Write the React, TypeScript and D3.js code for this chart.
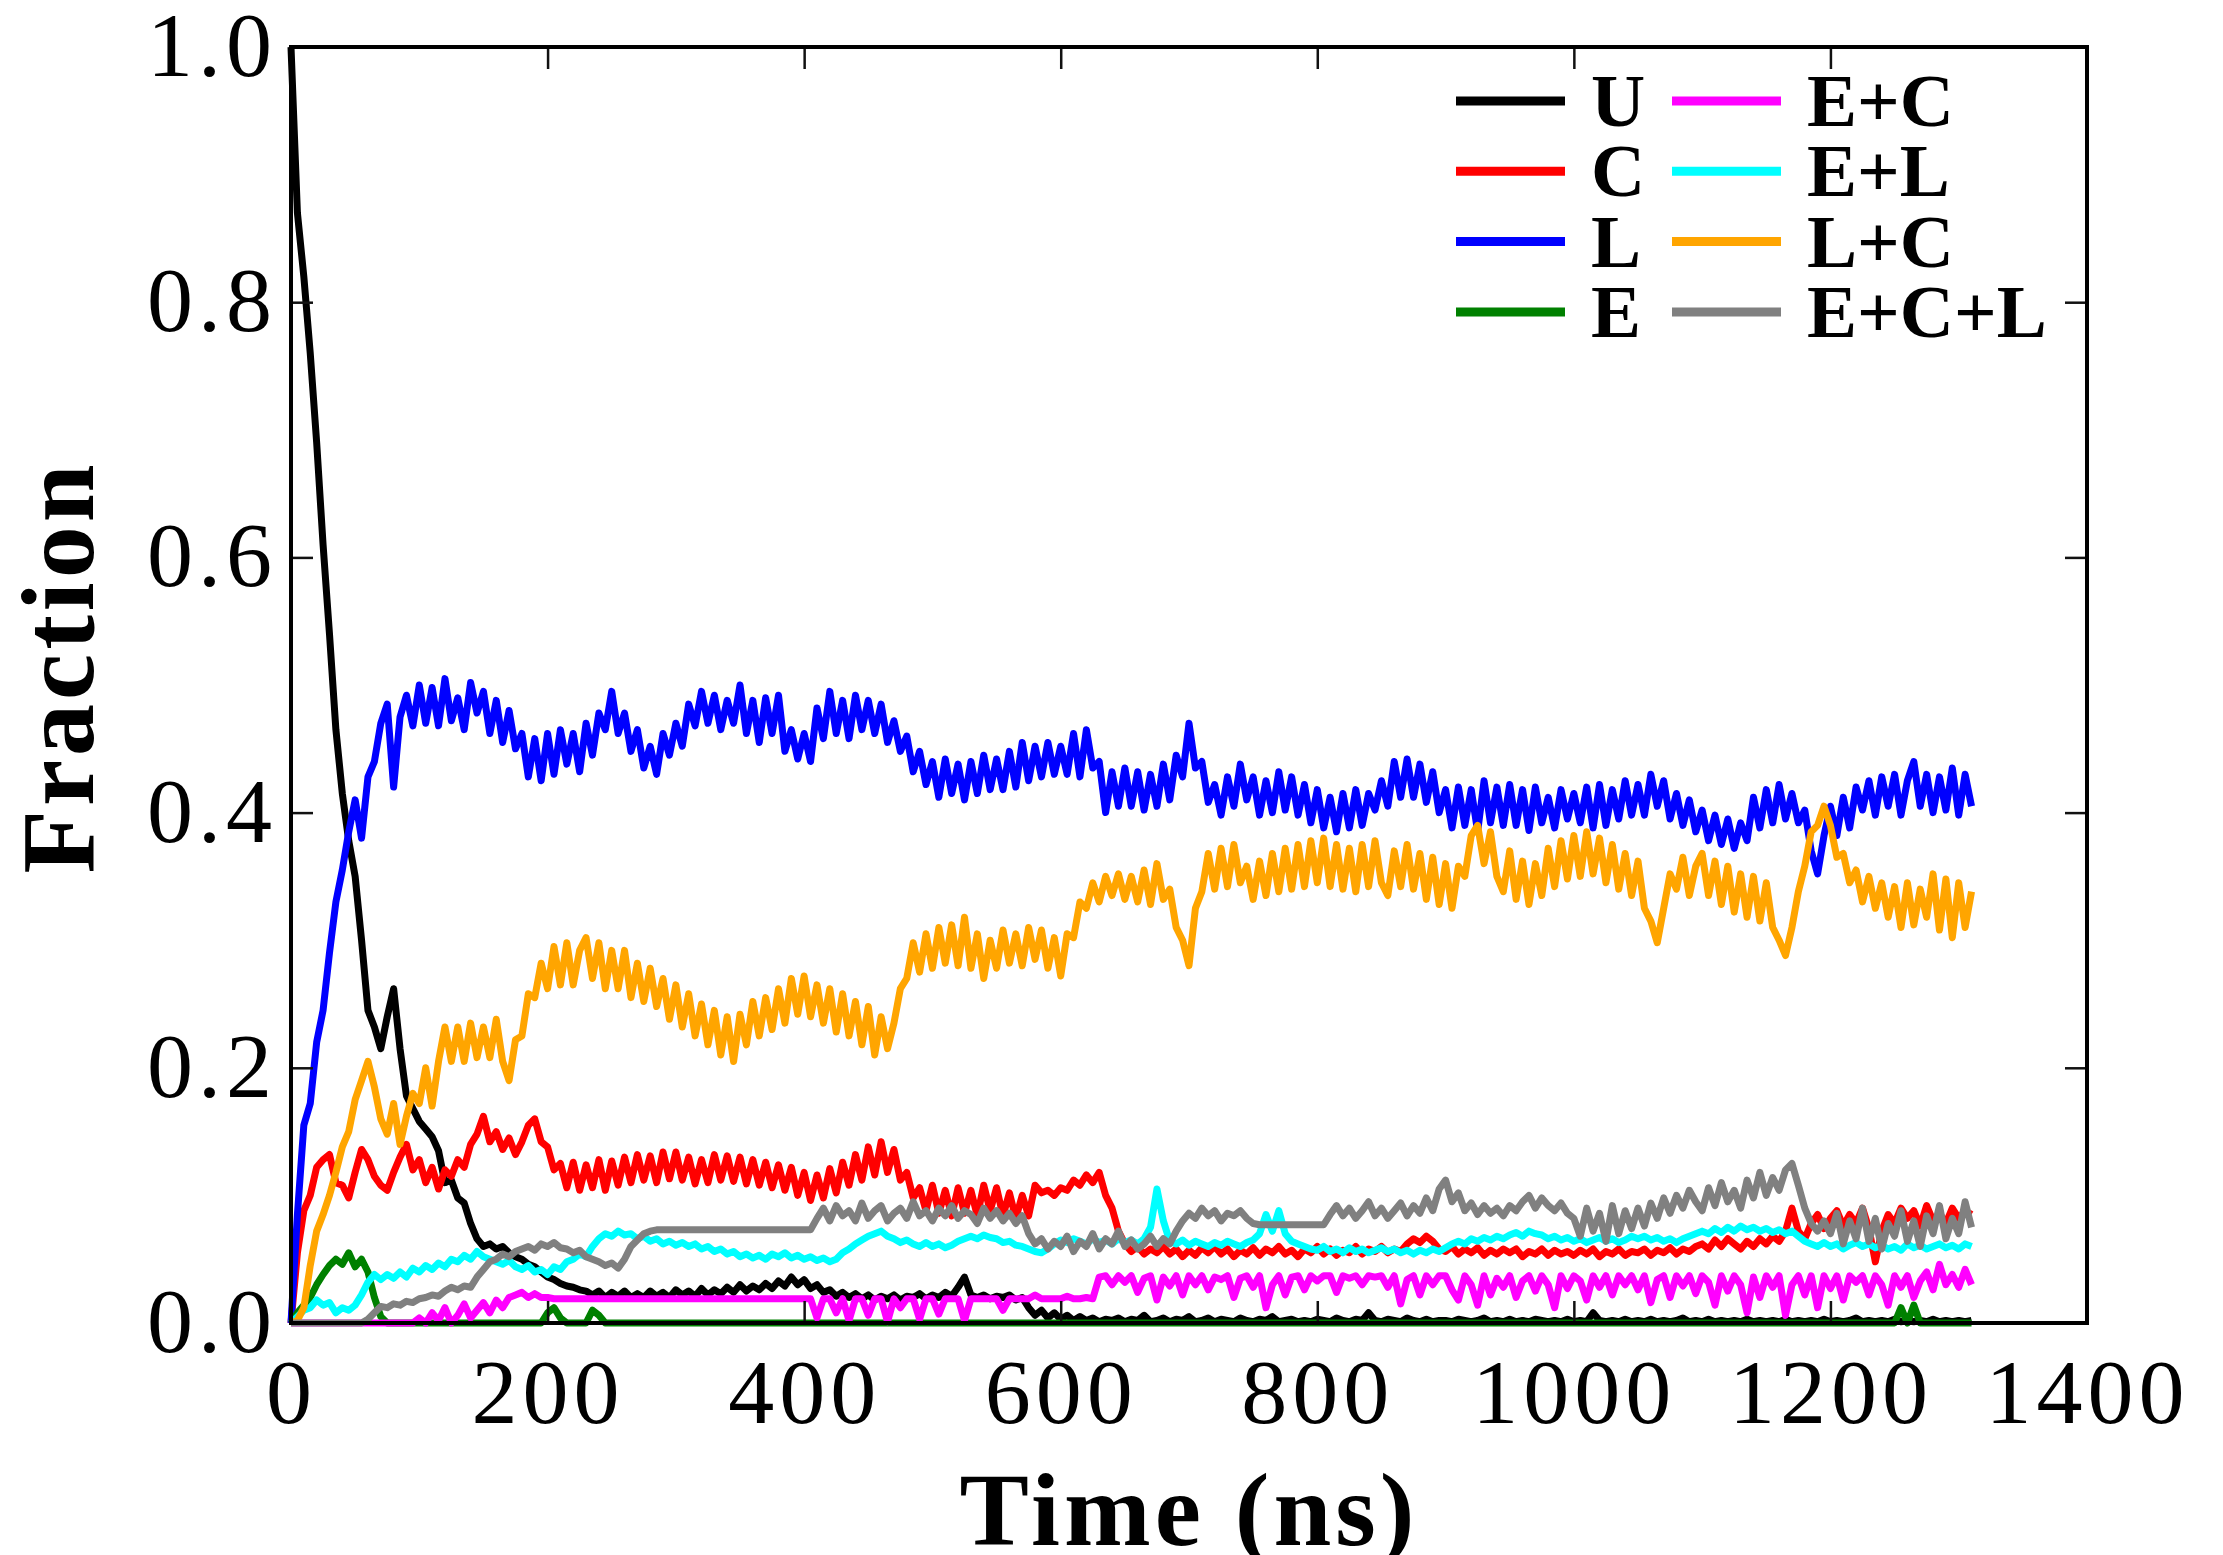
import * as React from 'react';
import * as d3 from 'd3';

// all series are sampled every 5 ns, starting at t = 0
const timeStep = 5;

const fracU = [
  1.0, 0.87, 0.82, 0.76, 0.69, 0.61, 0.54, 0.465, 0.415, 0.378,
  0.35, 0.3, 0.245, 0.232, 0.215, 0.24, 0.262, 0.215, 0.178, 0.168,
  0.158, 0.152, 0.146, 0.135, 0.11, 0.112, 0.098, 0.094, 0.078, 0.066,
  0.06, 0.062, 0.058, 0.06, 0.055, 0.052, 0.05, 0.046, 0.044, 0.04,
  0.036, 0.034, 0.031, 0.029, 0.028, 0.026, 0.025, 0.022, 0.025, 0.02,
  0.024, 0.021, 0.025, 0.02, 0.023, 0.02, 0.025, 0.021, 0.024, 0.02,
  0.026, 0.022, 0.025, 0.021, 0.027, 0.022, 0.026, 0.023, 0.028, 0.024,
  0.03, 0.025, 0.029, 0.026, 0.031, 0.027, 0.033, 0.029, 0.036, 0.03,
  0.034, 0.027, 0.03, 0.024, 0.026, 0.021, 0.024, 0.02, 0.023, 0.019,
  0.022, 0.018, 0.021, 0.019, 0.022, 0.018, 0.021, 0.02, 0.023, 0.019,
  0.022, 0.02, 0.024, 0.021, 0.028, 0.036, 0.022, 0.02, 0.022, 0.019,
  0.021, 0.02, 0.022, 0.018, 0.02, 0.012, 0.006, 0.01, 0.004, 0.008,
  0.003, 0.006, 0.002, 0.005, 0.002, 0.004, 0.001, 0.003, 0.002, 0.004,
  0.001, 0.003, 0.002, 0.006, 0.001, 0.002, 0.004, 0.001, 0.003, 0.002,
  0.005, 0.001, 0.002, 0.004, 0.001, 0.003, 0.002, 0.001, 0.004, 0.002,
  0.001, 0.003, 0.002, 0.005, 0.001, 0.002, 0.003, 0.001, 0.002, 0.001,
  0.003, 0.002, 0.001, 0.004, 0.002, 0.001, 0.003, 0.002, 0.008, 0.002,
  0.001, 0.003, 0.002, 0.001, 0.004, 0.002, 0.001, 0.003, 0.001, 0.002,
  0.002, 0.001, 0.003, 0.002, 0.001, 0.002, 0.004, 0.001, 0.002, 0.001,
  0.003, 0.001, 0.002, 0.001, 0.003, 0.002, 0.001, 0.002, 0.001, 0.003,
  0.001, 0.002, 0.001, 0.008, 0.002, 0.001, 0.002, 0.001, 0.003, 0.001,
  0.002, 0.001, 0.003, 0.001, 0.002, 0.001, 0.002, 0.004, 0.001, 0.002,
  0.001, 0.003, 0.001, 0.002, 0.001, 0.002, 0.001, 0.003, 0.001, 0.002,
  0.001, 0.002, 0.001, 0.003, 0.001, 0.002, 0.001, 0.002, 0.001, 0.003,
  0.001, 0.002, 0.001, 0.002, 0.004, 0.001, 0.002, 0.001, 0.002, 0.001,
  0.003, 0.001, 0.002, 0.001, 0.002, 0.001, 0.003, 0.001, 0.002, 0.001,
  0.002, 0.001, 0.002,
];

const fracC = [
  0, 0.055, 0.088, 0.1, 0.122, 0.128, 0.132, 0.11, 0.108, 0.098,
  0.118, 0.136, 0.128, 0.115, 0.108, 0.104, 0.118, 0.13, 0.14, 0.12,
  0.128, 0.11, 0.122, 0.105, 0.12, 0.115, 0.128, 0.122, 0.14, 0.148,
  0.162, 0.142, 0.15, 0.136, 0.145, 0.132, 0.142, 0.155, 0.16, 0.142,
  0.138, 0.12, 0.125, 0.106, 0.126, 0.104, 0.124, 0.106, 0.128, 0.104,
  0.127, 0.108, 0.13, 0.11, 0.132, 0.112, 0.131, 0.11, 0.134, 0.113,
  0.134, 0.112, 0.13, 0.109, 0.128, 0.11, 0.132, 0.112, 0.131, 0.111,
  0.13, 0.109, 0.128, 0.108, 0.126, 0.106, 0.124, 0.104, 0.122, 0.1,
  0.118, 0.096, 0.116, 0.098, 0.121, 0.102, 0.126, 0.108, 0.132, 0.112,
  0.138, 0.116, 0.142, 0.118, 0.136, 0.112, 0.118, 0.098, 0.106, 0.088,
  0.108, 0.086, 0.104, 0.084, 0.106, 0.086, 0.104, 0.084, 0.108, 0.088,
  0.106, 0.084, 0.102, 0.082, 0.1, 0.084, 0.108, 0.102, 0.104, 0.1,
  0.106, 0.104, 0.112, 0.108, 0.116, 0.11, 0.118, 0.1, 0.09, 0.072,
  0.062, 0.056, 0.06, 0.054, 0.058, 0.055, 0.06, 0.054, 0.058, 0.052,
  0.057, 0.053, 0.059, 0.055, 0.06, 0.054, 0.058, 0.052, 0.057, 0.054,
  0.059, 0.053, 0.058, 0.055, 0.06, 0.054, 0.057, 0.052, 0.058, 0.055,
  0.06, 0.054, 0.058, 0.053, 0.057, 0.055, 0.06, 0.054, 0.058, 0.056,
  0.06, 0.055, 0.058, 0.056, 0.062, 0.066, 0.063, 0.068, 0.064, 0.058,
  0.056, 0.06, 0.054, 0.058, 0.055, 0.059, 0.053, 0.057, 0.054, 0.058,
  0.055, 0.058, 0.052, 0.056, 0.054, 0.058, 0.053, 0.057, 0.054, 0.056,
  0.053, 0.057, 0.054, 0.058, 0.052, 0.056, 0.054, 0.058, 0.053, 0.056,
  0.055, 0.058, 0.053, 0.057, 0.055, 0.059, 0.054, 0.058, 0.056, 0.06,
  0.062, 0.058, 0.065, 0.06, 0.066, 0.062, 0.058, 0.064, 0.06, 0.066,
  0.062, 0.068, 0.064, 0.072, 0.09, 0.072, 0.066, 0.078, 0.085, 0.074,
  0.082, 0.088, 0.076, 0.085, 0.078, 0.09, 0.074, 0.048, 0.072, 0.085,
  0.078, 0.09, 0.082, 0.088, 0.076, 0.092, 0.08, 0.086, 0.078, 0.09,
  0.082, 0.088, 0.085,
];

const fracL = [
  0, 0.085, 0.155, 0.172, 0.22, 0.245, 0.29, 0.33, 0.355, 0.385,
  0.41, 0.38, 0.428, 0.44, 0.47, 0.485, 0.42, 0.475, 0.492, 0.468,
  0.5, 0.47, 0.498, 0.468, 0.505, 0.472, 0.49, 0.465, 0.502, 0.478,
  0.495, 0.462, 0.488, 0.455, 0.48, 0.45, 0.462, 0.428, 0.458, 0.425,
  0.462, 0.43, 0.465, 0.438, 0.462, 0.432, 0.47, 0.445, 0.478, 0.465,
  0.495, 0.462, 0.478, 0.448, 0.465, 0.435, 0.452, 0.43, 0.462, 0.445,
  0.47, 0.452, 0.485, 0.468, 0.495, 0.47, 0.492, 0.465, 0.488, 0.47,
  0.5, 0.462, 0.488, 0.455, 0.49, 0.462, 0.492, 0.448, 0.465, 0.442,
  0.462, 0.44, 0.482, 0.458, 0.495, 0.462, 0.488, 0.458, 0.492, 0.465,
  0.488, 0.462, 0.485, 0.455, 0.472, 0.448, 0.46, 0.432, 0.448, 0.422,
  0.44, 0.412, 0.442, 0.415, 0.438, 0.41, 0.44, 0.415, 0.445, 0.418,
  0.442, 0.418, 0.448, 0.42, 0.455, 0.425, 0.452, 0.428, 0.455, 0.43,
  0.452, 0.43, 0.462, 0.428, 0.465, 0.435, 0.44, 0.4, 0.432, 0.405,
  0.435, 0.405, 0.432, 0.402, 0.43, 0.405, 0.438, 0.41, 0.445, 0.428,
  0.47, 0.435, 0.44, 0.408, 0.422, 0.398, 0.428, 0.405, 0.438, 0.41,
  0.428, 0.398, 0.425, 0.4, 0.432, 0.402, 0.428, 0.398, 0.422, 0.392,
  0.418, 0.388, 0.412, 0.385, 0.415, 0.388, 0.418, 0.39, 0.415, 0.402,
  0.425, 0.405, 0.44, 0.412, 0.442, 0.412, 0.438, 0.408, 0.432, 0.4,
  0.418, 0.388, 0.42, 0.39, 0.418, 0.385, 0.425, 0.392, 0.42, 0.39,
  0.422, 0.39, 0.418, 0.386, 0.42, 0.392, 0.412, 0.388, 0.418, 0.395,
  0.415, 0.392, 0.42, 0.388, 0.422, 0.39, 0.418, 0.395, 0.425, 0.398,
  0.422, 0.398, 0.43, 0.405, 0.425, 0.395, 0.415, 0.39, 0.41, 0.385,
  0.402, 0.378, 0.398, 0.375, 0.395, 0.372, 0.392, 0.378, 0.412, 0.388,
  0.418, 0.392, 0.422, 0.395, 0.415, 0.392, 0.402, 0.37, 0.352, 0.382,
  0.405, 0.382, 0.412, 0.388, 0.42, 0.402, 0.425, 0.398, 0.428, 0.405,
  0.43, 0.398, 0.425, 0.44, 0.405, 0.43, 0.4, 0.428, 0.402, 0.435,
  0.398, 0.43, 0.405,
];

const fracE = [
  0, 0.008, 0.014, 0.02, 0.03, 0.038, 0.045, 0.05, 0.046, 0.055,
  0.044, 0.05, 0.04, 0.02, 0.005, 0, 0, 0, 0, 0,
  0, 0, 0, 0, 0, 0, 0, 0, 0, 0,
  0, 0, 0, 0, 0, 0, 0, 0, 0, 0,
  0.008, 0.012, 0.004, 0, 0, 0, 0, 0.01, 0.006, 0,
  0, 0, 0, 0, 0, 0, 0, 0, 0, 0,
  0, 0, 0, 0, 0, 0, 0, 0, 0, 0,
  0, 0, 0, 0, 0, 0, 0, 0, 0, 0,
  0, 0, 0, 0, 0, 0, 0, 0, 0, 0,
  0, 0, 0, 0, 0, 0, 0, 0, 0, 0,
  0, 0, 0, 0, 0, 0, 0, 0, 0, 0,
  0, 0, 0, 0, 0, 0, 0, 0, 0, 0,
  0, 0, 0, 0, 0, 0, 0, 0, 0, 0,
  0, 0, 0, 0, 0, 0, 0, 0, 0, 0,
  0, 0, 0, 0, 0, 0, 0, 0, 0, 0,
  0, 0, 0, 0, 0, 0, 0, 0, 0, 0,
  0, 0, 0, 0, 0, 0, 0, 0, 0, 0,
  0, 0, 0, 0, 0, 0, 0, 0, 0, 0,
  0, 0, 0, 0, 0, 0, 0, 0, 0, 0,
  0, 0, 0, 0, 0, 0, 0, 0, 0, 0,
  0, 0, 0, 0, 0, 0, 0, 0, 0, 0,
  0, 0, 0, 0, 0, 0, 0, 0, 0, 0,
  0, 0, 0, 0, 0, 0, 0, 0, 0, 0,
  0, 0, 0, 0, 0, 0, 0, 0, 0, 0,
  0, 0, 0, 0, 0, 0, 0, 0, 0, 0,
  0, 0.012, 0, 0.014, 0, 0, 0, 0, 0, 0,
  0, 0, 0,
];

const fracEC = [
  0, 0, 0, 0, 0, 0, 0, 0, 0, 0,
  0, 0, 0, 0, 0, 0, 0, 0, 0, 0,
  0.004, 0, 0.008, 0.002, 0.012, 0, 0.006, 0.015, 0.004, 0.01,
  0.016, 0.008, 0.018, 0.012, 0.02, 0.022, 0.024, 0.02, 0.023, 0.02,
  0.02, 0.019, 0.019, 0.019, 0.019, 0.019, 0.019, 0.019, 0.019, 0.019,
  0.019, 0.019, 0.019, 0.019, 0.019, 0.019, 0.019, 0.019, 0.019, 0.019,
  0.019, 0.019, 0.019, 0.019, 0.019, 0.019, 0.019, 0.019, 0.019, 0.019,
  0.019, 0.019, 0.019, 0.019, 0.019, 0.019, 0.019, 0.019, 0.019, 0.019,
  0.019, 0.019, 0.004, 0.019, 0.019, 0.008, 0.019, 0.002, 0.019, 0.019,
  0.006, 0.019, 0.019, 0.001, 0.019, 0.012, 0.019, 0.019, 0.003, 0.019,
  0.019, 0.007, 0.019, 0.019, 0.019, 0.002, 0.019, 0.019, 0.019, 0.019,
  0.019, 0.01, 0.019, 0.019, 0.019, 0.019, 0.022, 0.019, 0.019, 0.019,
  0.019, 0.021, 0.019, 0.019, 0.02, 0.019, 0.036, 0.037, 0.03, 0.037,
  0.032, 0.037, 0.024, 0.035, 0.037, 0.018, 0.036, 0.029, 0.037, 0.022,
  0.037, 0.03, 0.037, 0.026, 0.036, 0.034, 0.037, 0.02, 0.035, 0.037,
  0.028, 0.037, 0.012, 0.03, 0.037, 0.022, 0.036, 0.037, 0.026, 0.037,
  0.033, 0.037, 0.037, 0.024, 0.037, 0.035, 0.037, 0.03, 0.037, 0.036,
  0.037, 0.028, 0.037, 0.015, 0.034, 0.037, 0.022, 0.037, 0.03, 0.037,
  0.037, 0.026, 0.018, 0.037, 0.03, 0.014, 0.037, 0.022, 0.035, 0.028,
  0.037, 0.02, 0.033, 0.037, 0.025, 0.037, 0.03, 0.012, 0.037, 0.027,
  0.037, 0.033, 0.018, 0.037, 0.028, 0.037, 0.022, 0.037, 0.03, 0.037,
  0.026, 0.037, 0.016, 0.034, 0.037, 0.02, 0.037, 0.029, 0.037, 0.023,
  0.037, 0.032, 0.014, 0.037, 0.025, 0.037, 0.03, 0.008, 0.036, 0.02,
  0.037, 0.028, 0.037, 0.006, 0.03, 0.037, 0.022, 0.037, 0.012, 0.037,
  0.027, 0.037, 0.018, 0.037, 0.032, 0.037, 0.022, 0.037, 0.03, 0.014,
  0.037, 0.028, 0.037, 0.02, 0.033, 0.04, 0.026, 0.046, 0.03, 0.038,
  0.028, 0.042, 0.03,
];

const fracEL = [
  0, 0.005, 0.01, 0.012, 0.018, 0.014, 0.016, 0.008, 0.012, 0.01,
  0.014, 0.022, 0.032, 0.038, 0.034, 0.038, 0.035, 0.04, 0.036, 0.043,
  0.04, 0.045, 0.042, 0.047, 0.044, 0.05, 0.048, 0.053, 0.05, 0.056,
  0.052, 0.05, 0.048, 0.046, 0.049, 0.044, 0.042, 0.045, 0.04, 0.042,
  0.038, 0.044, 0.042, 0.048, 0.05, 0.054, 0.052, 0.06, 0.066, 0.07,
  0.068, 0.072, 0.069, 0.07, 0.066, 0.068, 0.064, 0.066, 0.062, 0.064,
  0.061, 0.063, 0.06, 0.062, 0.058, 0.06, 0.056, 0.058, 0.054, 0.056,
  0.052, 0.054, 0.051, 0.053, 0.05, 0.054, 0.052, 0.055, 0.051, 0.053,
  0.05, 0.052, 0.049, 0.051, 0.048, 0.05, 0.055, 0.058, 0.062, 0.065,
  0.068, 0.07, 0.072, 0.068, 0.066, 0.063, 0.065, 0.062, 0.06, 0.063,
  0.06, 0.062, 0.059, 0.061, 0.064, 0.066, 0.068, 0.066, 0.069, 0.067,
  0.066, 0.063, 0.064, 0.061, 0.06, 0.058, 0.056, 0.055, 0.058, 0.062,
  0.065, 0.063, 0.066, 0.064, 0.062, 0.066, 0.063, 0.065, 0.062, 0.066,
  0.063, 0.065, 0.062, 0.066, 0.075, 0.105, 0.08, 0.064, 0.062, 0.065,
  0.061, 0.064, 0.062, 0.06, 0.063, 0.061, 0.064, 0.062, 0.06, 0.063,
  0.065, 0.07, 0.085, 0.072, 0.088, 0.07, 0.064, 0.062, 0.06, 0.058,
  0.057, 0.06, 0.056, 0.058, 0.055, 0.059, 0.056, 0.058, 0.055, 0.057,
  0.059, 0.056, 0.058, 0.055, 0.057, 0.054, 0.057, 0.055, 0.058, 0.056,
  0.059, 0.062, 0.064, 0.062, 0.066, 0.064, 0.067, 0.065, 0.068, 0.066,
  0.069, 0.071, 0.068, 0.072, 0.07, 0.069, 0.066, 0.068, 0.065, 0.067,
  0.064, 0.066, 0.063, 0.065, 0.067, 0.064, 0.066, 0.063, 0.065, 0.068,
  0.066, 0.068, 0.065, 0.067, 0.064, 0.066, 0.063, 0.066, 0.068, 0.07,
  0.072, 0.07, 0.074, 0.071, 0.075, 0.072, 0.076, 0.073, 0.075, 0.072,
  0.074, 0.071, 0.073, 0.07, 0.072, 0.068, 0.064, 0.062, 0.06, 0.063,
  0.06, 0.062, 0.058, 0.061, 0.063, 0.06, 0.062, 0.059, 0.061, 0.058,
  0.06, 0.057, 0.062, 0.059, 0.061, 0.058, 0.06, 0.062, 0.059, 0.061,
  0.058, 0.062, 0.06,
];

const fracLC = [
  0, 0.002, 0.012, 0.045, 0.072, 0.085, 0.1, 0.118, 0.138, 0.15,
  0.175, 0.19, 0.205, 0.185, 0.16, 0.148, 0.172, 0.14, 0.162, 0.18,
  0.172, 0.2, 0.17, 0.205, 0.232, 0.205, 0.232, 0.205, 0.235, 0.208,
  0.232, 0.208, 0.238, 0.205, 0.19, 0.222, 0.225, 0.258, 0.255, 0.282,
  0.262, 0.295, 0.265, 0.298, 0.265, 0.292, 0.302, 0.27, 0.298, 0.262,
  0.292, 0.262, 0.292, 0.255, 0.282, 0.252, 0.278, 0.248, 0.27, 0.238,
  0.265, 0.232, 0.258, 0.225, 0.25, 0.218, 0.245, 0.21, 0.24, 0.205,
  0.242, 0.218, 0.252, 0.225, 0.255, 0.23, 0.262, 0.235, 0.27, 0.242,
  0.272, 0.24, 0.265, 0.235, 0.262, 0.228, 0.258, 0.225, 0.252, 0.218,
  0.248, 0.21, 0.24, 0.215, 0.235, 0.262, 0.27, 0.298, 0.275, 0.305,
  0.278, 0.31, 0.282, 0.312, 0.28, 0.318, 0.278, 0.305, 0.27, 0.3,
  0.278, 0.308, 0.282, 0.305, 0.28, 0.31, 0.285, 0.308, 0.278, 0.302,
  0.272, 0.305, 0.302, 0.33, 0.325, 0.345, 0.33, 0.35, 0.335, 0.352,
  0.332, 0.35, 0.33, 0.355, 0.328, 0.36, 0.332, 0.34, 0.31, 0.3,
  0.28, 0.325, 0.338, 0.368, 0.34, 0.372, 0.342, 0.375, 0.345, 0.358,
  0.332, 0.362, 0.335, 0.368, 0.338, 0.372, 0.34, 0.375, 0.342, 0.378,
  0.345, 0.38, 0.342, 0.375, 0.34, 0.372, 0.338, 0.375, 0.342, 0.378,
  0.345, 0.335, 0.37, 0.342, 0.375, 0.34, 0.368, 0.332, 0.365, 0.328,
  0.36, 0.325, 0.358, 0.35, 0.382, 0.39, 0.36, 0.385, 0.35, 0.338,
  0.37, 0.332, 0.362, 0.328, 0.36, 0.335, 0.372, 0.342, 0.378, 0.348,
  0.382, 0.35, 0.385, 0.352, 0.38, 0.345, 0.375, 0.34, 0.368, 0.335,
  0.362, 0.325, 0.315, 0.298, 0.325, 0.352, 0.34, 0.365, 0.335, 0.358,
  0.368, 0.335, 0.362, 0.328, 0.358, 0.322, 0.352, 0.318, 0.35, 0.315,
  0.345, 0.31, 0.3, 0.288, 0.31, 0.338, 0.358, 0.385, 0.39, 0.405,
  0.39, 0.365, 0.368, 0.345, 0.355, 0.33, 0.35, 0.325, 0.345, 0.318,
  0.342, 0.31, 0.345, 0.312, 0.34, 0.318, 0.352, 0.308, 0.348, 0.302,
  0.345, 0.31, 0.338,
];

const fracECL = [
  0, 0, 0, 0, 0, 0, 0, 0, 0, 0,
  0, 0, 0.003, 0.008, 0.013, 0.012, 0.015, 0.014, 0.017, 0.016,
  0.019, 0.02, 0.022, 0.021, 0.025, 0.028, 0.026, 0.029, 0.028, 0.036,
  0.042, 0.048, 0.05, 0.054, 0.052, 0.056, 0.058, 0.06, 0.057, 0.062,
  0.06, 0.063, 0.059, 0.058, 0.055, 0.057, 0.052, 0.05, 0.048, 0.045,
  0.047, 0.043, 0.05, 0.06, 0.065, 0.07, 0.072, 0.073, 0.073, 0.073,
  0.073, 0.073, 0.073, 0.073, 0.073, 0.073, 0.073, 0.073, 0.073, 0.073,
  0.073, 0.073, 0.073, 0.073, 0.073, 0.073, 0.073, 0.073, 0.073, 0.073,
  0.073, 0.073, 0.082, 0.09, 0.08, 0.092, 0.084, 0.088, 0.08, 0.094,
  0.082, 0.088, 0.092, 0.08, 0.086, 0.09, 0.082, 0.095, 0.084, 0.088,
  0.08, 0.09, 0.084, 0.092, 0.082, 0.088, 0.085, 0.078, 0.09, 0.082,
  0.088, 0.08, 0.086, 0.078, 0.084, 0.07, 0.062, 0.066, 0.058, 0.064,
  0.06, 0.068, 0.056, 0.064, 0.06, 0.07, 0.058, 0.066, 0.062, 0.072,
  0.06, 0.065, 0.058, 0.062, 0.068, 0.06, 0.066, 0.062, 0.072, 0.08,
  0.086, 0.082, 0.09, 0.084, 0.088, 0.08, 0.086, 0.084, 0.088, 0.082,
  0.078, 0.077, 0.077, 0.077, 0.077, 0.077, 0.077, 0.077, 0.077, 0.077,
  0.077, 0.077, 0.085, 0.092, 0.084, 0.09, 0.082, 0.088, 0.095, 0.084,
  0.09, 0.082, 0.088, 0.094, 0.084, 0.092, 0.086, 0.098, 0.088, 0.105,
  0.112, 0.095, 0.102, 0.088, 0.094, 0.085, 0.092, 0.086, 0.09, 0.084,
  0.092, 0.088, 0.095, 0.1, 0.09, 0.098, 0.092, 0.088, 0.094, 0.086,
  0.082, 0.068, 0.09, 0.072, 0.086, 0.064, 0.092, 0.07, 0.088, 0.074,
  0.09, 0.076, 0.094, 0.082, 0.098, 0.086, 0.1, 0.09, 0.104, 0.095,
  0.088, 0.106, 0.092, 0.11, 0.095, 0.104, 0.09, 0.112, 0.098, 0.118,
  0.1, 0.114, 0.104, 0.12, 0.125, 0.108, 0.09, 0.078, 0.072, 0.08,
  0.07, 0.086, 0.062, 0.08, 0.066, 0.09, 0.064, 0.082, 0.058, 0.078,
  0.068, 0.088, 0.064, 0.08, 0.06, 0.084, 0.07, 0.092, 0.066, 0.082,
  0.07, 0.095, 0.075,
];

const seriesNames = ['U', 'C', 'L', 'E', 'E+C', 'E+L', 'L+C', 'E+C+L'];
const seriesColors = ['#000000', '#ff0000', '#0000ff', '#008000', '#ff00ff', '#00ffff', '#ffa500', '#808080'];
const seriesValues = [fracU, fracC, fracL, fracE, fracEC, fracEL, fracLC, fracECL];

const xTicks = [0, 200, 400, 600, 800, 1000, 1200, 1400];
const yTicks = [0, 0.2, 0.4, 0.6, 0.8, 1.0];

type Point = {
    time: number,
    frac: number,
}

const serif = '"Liberation Serif", "Times New Roman", serif';

class FractionChart extends React.Component<{}, {}> {
    private chartRef: React.RefObject<SVGSVGElement> = React.createRef();
    private dim = {
        width: 2223,
        height: 1555,
        left: 291,
        right: 2087,
        top: 47,
        bottom: 1323,
    }

    componentDidMount() {
        const { width, height, left, right, top, bottom } = this.dim;
        const svg = d3.select(this.chartRef.current);
        svg.selectAll('*').remove();

        svg.append('rect')
            .attr('width', width)
            .attr('height', height)
            .attr('fill', '#ffffff');

        const x = d3.scaleLinear().domain([0, 1400]).range([left, right]);
        const y = d3.scaleLinear().domain([0, 1]).range([bottom, top]);

        const line = d3.line<Point>()
            .x(d => x(d.time))
            .y(d => y(d.frac));

        seriesValues.forEach((vals, k) => {
            const pts: Point[] = vals.map((v, i) => ({ time: i * timeStep, frac: v }));
            svg.append('path')
                .datum(pts)
                .attr('fill', 'none')
                .attr('stroke', seriesColors[k])
                .attr('stroke-width', 7)
                .attr('stroke-linejoin', 'round')
                .attr('d', line);
        });

        const styleAxis = (g: d3.Selection<SVGGElement, unknown, null, undefined>) => {
            g.select('.domain').remove();
            g.selectAll('.tick line')
                .attr('stroke', '#111')
                .attr('stroke-width', 2.5);
            g.selectAll('.tick text')
                .attr('fill', '#000')
                .attr('font-family', serif)
                .attr('font-size', 92)
                .attr('letter-spacing', 5);
        };

        svg.append('g')
            .attr('transform', `translate(0, ${bottom})`)
            .call(d3.axisBottom(x).tickValues(xTicks).tickFormat(d3.format('d')).tickSize(-22).tickPadding(35))
            .call(styleAxis);
        svg.append('g')
            .attr('transform', `translate(0, ${top})`)
            .call(d3.axisTop(x).tickValues(xTicks).tickFormat(() => '').tickSize(-22))
            .call(styleAxis);
        svg.append('g')
            .attr('transform', `translate(${left}, 0)`)
            .call(d3.axisLeft(y).tickValues(yTicks).tickFormat(d3.format('.1f')).tickSize(-22).tickPadding(14))
            .call(styleAxis)
            .call(g => g.selectAll('.tick text').attr('dy', '0.31em'));
        svg.append('g')
            .attr('transform', `translate(${right}, 0)`)
            .call(d3.axisRight(y).tickValues(yTicks).tickFormat(() => '').tickSize(-22))
            .call(styleAxis);

        svg.append('rect')
            .attr('x', left)
            .attr('y', top)
            .attr('width', right - left)
            .attr('height', bottom - top)
            .attr('fill', 'none')
            .attr('stroke', '#000')
            .attr('stroke-width', 4);

        // axis titles
        svg.append('text')
            .attr('x', (left + right) / 2)
            .attr('y', 1545)
            .attr('text-anchor', 'middle')
            .attr('font-family', serif)
            .attr('font-weight', 'bold')
            .attr('font-size', 104)
            .attr('letter-spacing', 4)
            .text('Time (ns)');
        svg.append('text')
            .attr('transform', 'translate(93, 667) rotate(-90)')
            .attr('text-anchor', 'middle')
            .attr('font-family', serif)
            .attr('font-weight', 'bold')
            .attr('font-size', 104)
            .attr('letter-spacing', 4)
            .text('Fraction');

        // legend, two columns of four
        const legend = svg.append('g');
        seriesNames.forEach((name, k) => {
            const col = Math.floor(k / 4);
            const row = k % 4;
            const lx = 1456 + col * 216;
            const ly = 101 + row * 70.3;
            legend.append('line')
                .attr('x1', lx)
                .attr('x2', lx + 109)
                .attr('y1', ly)
                .attr('y2', ly)
                .attr('stroke', seriesColors[k])
                .attr('stroke-width', 9);
            legend.append('text')
                .attr('x', lx + 135)
                .attr('y', ly + 25)
                .attr('font-family', serif)
                .attr('font-weight', 'bold')
                .attr('font-size', 75)
                .text(name);
        });
    }

    componentWillUnmount() {
        d3.select(this.chartRef.current).selectAll('*').remove();
    }

    render() {
        return (
            <svg
                ref={this.chartRef}
                width={this.dim.width}
                height={this.dim.height}
                style={{ position: 'absolute', left: 0, top: 0, display: 'block' }}
            />
        );
    }
}

export default function App() {
    return <FractionChart />;
}
